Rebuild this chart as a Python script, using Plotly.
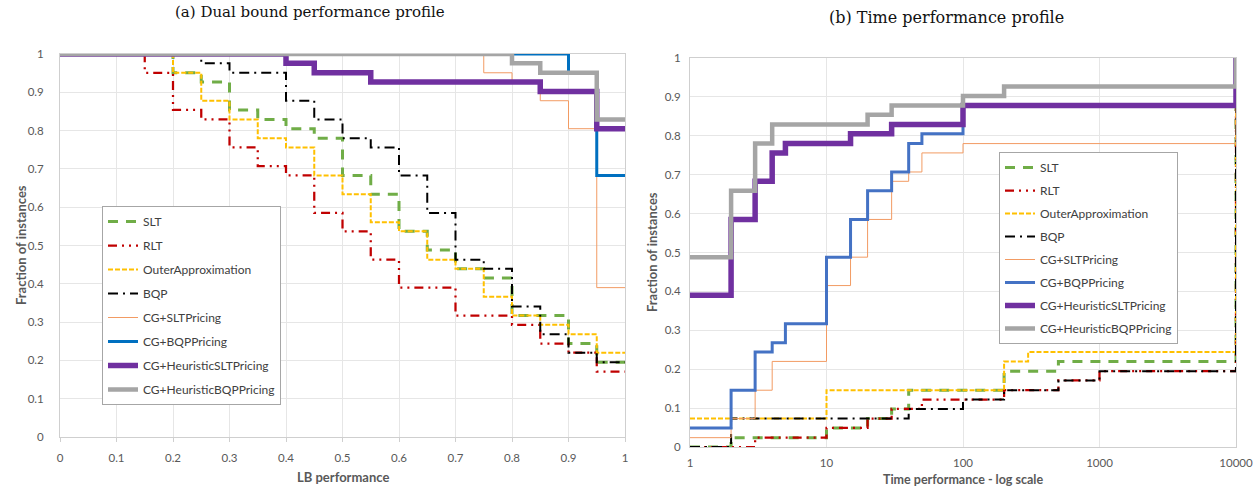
import plotly.graph_objects as go

# ---------------- data: (a) dual bound performance profile ----------------
lb_slt_x = [0, 0.2, 0.25, 0.3, 0.35, 0.4, 0.45, 0.5, 0.55, 0.6, 0.65, 0.7, 0.75, 0.8, 0.9, 0.95, 1.0]
lb_slt_y = [1, 0.951, 0.927, 0.854, 0.829, 0.805, 0.780, 0.683, 0.634, 0.537, 0.488, 0.439, 0.415, 0.317, 0.244, 0.195, 0.195]
lb_rlt_x = [0, 0.15, 0.2, 0.25, 0.3, 0.35, 0.4, 0.45, 0.5, 0.55, 0.6, 0.7, 0.8, 0.85, 0.9, 0.95, 1.0]
lb_rlt_y = [1, 0.951, 0.854, 0.829, 0.756, 0.707, 0.683, 0.585, 0.537, 0.463, 0.390, 0.317, 0.293, 0.244, 0.220, 0.171, 0.171]
lb_oa_x = [0, 0.2, 0.25, 0.3, 0.35, 0.4, 0.45, 0.5, 0.55, 0.6, 0.65, 0.7, 0.75, 0.8, 0.85, 0.9, 0.95, 1.0]
lb_oa_y = [1, 0.951, 0.878, 0.829, 0.780, 0.756, 0.683, 0.634, 0.561, 0.537, 0.463, 0.439, 0.366, 0.317, 0.293, 0.268, 0.220, 0.220]
lb_bqp_x = [0, 0.25, 0.3, 0.4, 0.45, 0.5, 0.55, 0.6, 0.65, 0.7, 0.75, 0.8, 0.85, 0.9, 0.95, 1.0]
lb_bqp_y = [1, 0.976, 0.951, 0.878, 0.829, 0.780, 0.756, 0.683, 0.585, 0.463, 0.439, 0.341, 0.268, 0.220, 0.195, 0.195]
lb_cgslt_x = [0, 0.75, 0.8, 0.85, 0.9, 0.95, 1.0]
lb_cgslt_y = [1, 0.951, 0.927, 0.878, 0.805, 0.390, 0.390]
lb_cgbqp_x = [0, 0.9, 0.95, 1.0]
lb_cgbqp_y = [1, 0.951, 0.683, 0.683]
lb_hslt_x = [0, 0.4, 0.45, 0.55, 0.85, 0.95, 1.0]
lb_hslt_y = [1, 0.976, 0.951, 0.927, 0.902, 0.805, 0.805]
lb_hbqp_x = [0, 0.8, 0.85, 0.95, 1.0]
lb_hbqp_y = [1, 0.976, 0.951, 0.829, 0.829]

# ---------------- data: (b) time performance profile ----------------
t_slt_x = [1, 2, 10, 20, 30, 40, 200, 500, 10000]
t_slt_y = [0, 0.024, 0.049, 0.073, 0.098, 0.146, 0.195, 0.220, 1]
t_rlt_x = [1, 3, 10, 20, 30, 50, 200, 500, 1000, 10000]
t_rlt_y = [0, 0.024, 0.049, 0.073, 0.098, 0.122, 0.146, 0.171, 0.195, 1]
t_oa_x = [1, 10, 200, 300, 10000]
t_oa_y = [0.073, 0.146, 0.220, 0.244, 1]
t_bqp_x = [1, 2, 40, 100, 200, 500, 1000, 10000]
t_bqp_y = [0, 0.073, 0.098, 0.122, 0.146, 0.171, 0.195, 1]
t_cgslt_x = [1, 2, 3, 4, 10, 15, 20, 30, 40, 50, 100, 10000]
t_cgslt_y = [0.024, 0.073, 0.146, 0.220, 0.415, 0.488, 0.585, 0.683, 0.707, 0.756, 0.780, 1]
t_cgbqp_x = [1, 2, 3, 4, 5, 10, 15, 20, 30, 40, 50, 100, 10000]
t_cgbqp_y = [0.049, 0.146, 0.244, 0.268, 0.317, 0.488, 0.585, 0.659, 0.707, 0.780, 0.805, 0.878, 1]
t_hslt_x = [1, 2, 3, 4, 5, 15, 30, 100, 10000]
t_hslt_y = [0.390, 0.585, 0.683, 0.756, 0.780, 0.805, 0.829, 0.878, 1]
t_hbqp_x = [1, 2, 3, 4, 20, 30, 100, 200, 10000]
t_hbqp_y = [0.488, 0.659, 0.780, 0.829, 0.854, 0.878, 0.902, 0.927, 1]

series_names = ["SLT", "RLT", "OuterApproximation", "BQP", "CG+SLTPricing",
                "CG+BQPPricing", "CG+HeuristicSLTPricing", "CG+HeuristicBQPPricing"]
y_ticks = [0, 0.1, 0.2, 0.3, 0.4, 0.5, 0.6, 0.7, 0.8, 0.9, 1]
y_ticktext = ["0", "0.1", "0.2", "0.3", "0.4", "0.5", "0.6", "0.7", "0.8", "0.9", "1"]
lb_xticks = [0, 0.1, 0.2, 0.3, 0.4, 0.5, 0.6, 0.7, 0.8, 0.9, 1]
lb_xticktext = ["0", "0.1", "0.2", "0.3", "0.4", "0.5", "0.6", "0.7", "0.8", "0.9", "1"]
t_xticks = [1, 10, 100, 1000, 10000]
t_xticktext = ["1", "10", "100", "1000", "10000"]

# ---------------- styles ----------------
styles = [
    dict(color="#70AD47", width=3, dash="10px,8px"),
    dict(color="#C00000", width=2.25, dash="9px,5px,2px,5px,2px,5px"),
    dict(color="#FFC000", width=2, dash="5px,2px"),
    dict(color="#000000", width=2, dash="10px,5px,2px,5px"),
    dict(color="#F29B63", width=1, dash="solid"),
    dict(color="#0070C0", width=3, dash="solid"),
    dict(color="#7030A0", width=5.5, dash="solid"),
    dict(color="#A5A5A5", width=4.5, dash="solid"),
]
right_styles = [dict(s) for s in styles]
right_styles[5]["color"] = "#4472C4"

FONT = "Lato, 'Open Sans', sans-serif"
SERIF = "'DejaVu Serif', serif"
TICKC = "#595959"

fig = go.Figure()
lb_data = [(lb_slt_x, lb_slt_y), (lb_rlt_x, lb_rlt_y), (lb_oa_x, lb_oa_y), (lb_bqp_x, lb_bqp_y),
           (lb_cgslt_x, lb_cgslt_y), (lb_cgbqp_x, lb_cgbqp_y), (lb_hslt_x, lb_hslt_y), (lb_hbqp_x, lb_hbqp_y)]
t_data = [(t_slt_x, t_slt_y), (t_rlt_x, t_rlt_y), (t_oa_x, t_oa_y), (t_bqp_x, t_bqp_y),
          (t_cgslt_x, t_cgslt_y), (t_cgbqp_x, t_cgbqp_y), (t_hslt_x, t_hslt_y), (t_hbqp_x, t_hbqp_y)]

for i, (name, (xs, ys)) in enumerate(zip(series_names, lb_data)):
    fig.add_trace(go.Scatter(x=xs, y=ys, name=name, mode="lines", line_shape="hv",
                             line=styles[i], xaxis="x", yaxis="y",
                             legend="legend", legendgroup="a" + str(i)))
for i, (name, (xs, ys)) in enumerate(zip(series_names, t_data)):
    fig.add_trace(go.Scatter(x=xs, y=ys, name=name, mode="lines", line_shape="hv",
                             line=right_styles[i], xaxis="x2", yaxis="y2",
                             legend="legend2", legendgroup="b" + str(i)))

W, H = 1260, 487
def px_x(p):
    return p / W
def px_y(p):
    return 1 - p / H

axis_common = dict(showgrid=True, gridcolor="#E6E6E6", gridwidth=1, zeroline=False,
                   showline=True, linecolor="#CFCFCF", linewidth=1, mirror=True,
                   automargin=False,
                   tickfont=dict(family=FONT, size=11.5, color=TICKC), fixedrange=True)

fig.update_layout(
    template="none",
    width=W, height=H, margin=dict(l=0, r=0, t=0, b=0, pad=0, autoexpand=False),
    paper_bgcolor="white", plot_bgcolor="white",
    font=dict(family=FONT, color="#404040"),
    xaxis=dict(domain=[px_x(60), px_x(625)], range=[0, 1], tickvals=lb_xticks, ticktext=lb_xticktext,
               ticks="outside", ticklen=4, tickcolor="#CFCFCF", ticklabelstandoff=6,
               anchor="y", **axis_common),
    yaxis=dict(domain=[px_y(437), px_y(54)], range=[0, 1], tickvals=y_ticks, ticktext=y_ticktext,
               ticks="", ticklabelstandoff=13, anchor="x", **axis_common),
    xaxis2=dict(domain=[px_x(690), px_x(1236)], type="log", range=[0, 4], tickvals=t_xticks,
                ticktext=t_xticktext, ticks="", ticklabelstandoff=5, anchor="y2", **axis_common),
    yaxis2=dict(domain=[px_y(447), px_y(58)], range=[0, 1], tickvals=y_ticks, ticktext=y_ticktext,
                ticks="", ticklabelstandoff=6, anchor="x2", **axis_common),
    legend=dict(x=px_x(102), y=px_y(206), xanchor="left", yanchor="top",
                bordercolor="#A6A6A6", borderwidth=1, bgcolor="white",
                font=dict(family=FONT, size=12, color="#404040"),
                tracegroupgap=5, traceorder="grouped"),
    legend2=dict(x=px_x(999), y=px_y(152), xanchor="left", yanchor="top",
                 bordercolor="#A6A6A6", borderwidth=1, bgcolor="white",
                 font=dict(family=FONT, size=12, color="#404040"),
                 tracegroupgap=4, traceorder="grouped"),
    showlegend=True,
)

annots = [
    dict(text="(a) Dual bound performance profile", x=px_x(310), y=px_y(12),
         font=dict(family=SERIF, size=15, color="#111111")),
    dict(text="(b) Time performance profile", x=px_x(946), y=px_y(17),
         font=dict(family=SERIF, size=16, color="#111111")),
    dict(text="<b>LB performance</b>", x=px_x(343), y=px_y(477),
         font=dict(family=FONT, size=13, color=TICKC)),
    dict(text="<b>Time performance - log scale</b>", x=px_x(963), y=px_y(479),
         font=dict(family=FONT, size=12.5, color=TICKC)),
    dict(text="<b>Fraction of instances</b>", x=px_x(21), y=px_y(245), textangle=-90,
         font=dict(family=FONT, size=13, color=TICKC)),
    dict(text="<b>Fraction of instances</b>", x=px_x(652), y=px_y(252), textangle=-90,
         font=dict(family=FONT, size=13, color=TICKC)),
]
for a in annots:
    fig.add_annotation(xref="paper", yref="paper", showarrow=False,
                       xanchor="center", yanchor="middle", **a)

fig.write_html("out.html")
